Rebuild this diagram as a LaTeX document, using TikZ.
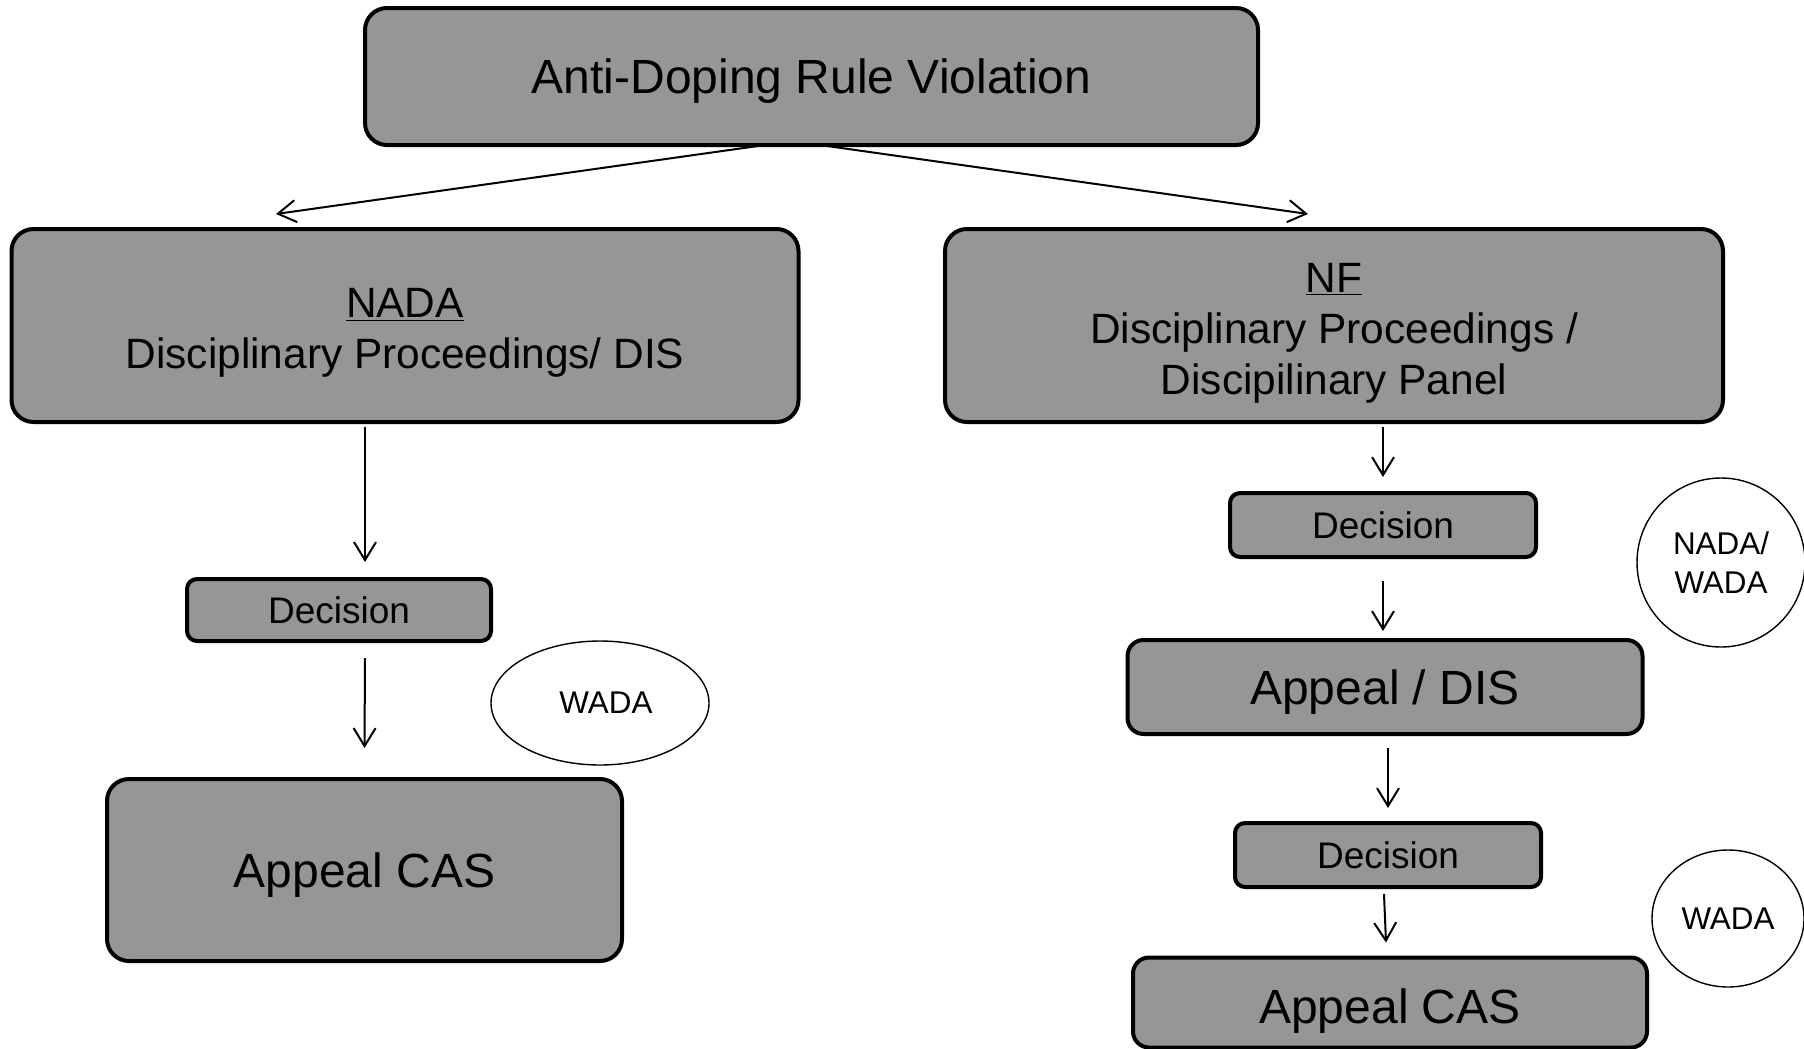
\documentclass[tikz,border=0pt]{standalone}
\usepackage{fontspec}
\setmainfont{Liberation Sans}
\usetikzlibrary{arrows.meta}
\usetikzlibrary{shapes.geometric}
\definecolor{boxgray}{RGB}{150,150,150}
\tikzstyle{blk} =[draw,line width=2pt,fill=boxgray,align=center,inner sep=0pt,text depth=0pt,rounded corners=11pt]
\tikzstyle{blkm}=[blk,rounded corners=8pt]
\tikzstyle{blks}=[blk,rounded corners=5pt,font=\fontsize{18.5}{22}\selectfont]
\tikzstyle{oval}=[draw,ellipse,line width=.7pt,inner sep=0pt,align=center,text depth=0pt,font=\fontsize{15.7}{19.5}\selectfont]
\tikzstyle{big} =[font=\fontsize{24}{29}\selectfont]
\tikzstyle{med} =[font=\fontsize{21.2}{25.5}\selectfont]
\tikzstyle{arr} =[line width=1pt,-{Straight Barb[length=9pt,width=11pt]}]

\begin{document}
\begin{tikzpicture}[x=.5pt,y=-.5pt]
  \useasboundingbox (0,0) rectangle (1804,1049);
  % top
  \node[blk,big,minimum width=446.5pt,minimum height=68.5pt] (viol) at (811.5,76.5) {Anti-Doping Rule Violation};
  \node[blk,med,minimum width=393.5pt,minimum height=96.5pt,text height=43pt] (nada) at (405,325.5) {\underline{NADA}\\Disciplinary Proceedings/ DIS};
  \node[blk,med,minimum width=389pt,minimum height=96.5pt,text height=68.5pt] (nf) at (1334,325.5) {\underline{NF}\\Disciplinary Proceedings /\\Discipilinary Panel};
  % left branch
  \node[blks,minimum width=152pt,minimum height=31pt] (decl) at (339,610) {Decision};
  \node[blk,big,minimum width=257.5pt,minimum height=91pt] (casl) at (364.5,870) {Appeal CAS};
  \node[oval,minimum width=109pt,minimum height=62pt] (wadal) at (600,703) {\hspace*{6pt}WADA};
  % right branch
  \node[blks,minimum width=153pt,minimum height=32pt] (decr) at (1383,525) {Decision};
  \node[oval,minimum width=84pt,minimum height=84.5pt] (nawa) at (1721,562.5) {NADA/\\WADA};
  \node[blkm,big,minimum width=257.5pt,minimum height=47pt] (dis) at (1385,687) {Appeal / DIS};
  \node[blks,minimum width=153pt,minimum height=32pt] (decs) at (1388,855) {Decision};
  \node[blkm,big,minimum width=257pt,minimum height=45pt,text height=20.6pt] (casr) at (1390,1002.5) {Appeal CAS};
  \node[oval,minimum width=76pt,minimum height=68.5pt] (wadar) at (1728,918.5) {WADA};

  \draw[arr] ([xshift=-23.25pt,yshift=1pt]viol.south) -- ([xshift=-64.5pt,yshift=6.5pt]nada.north);
  \draw[arr] ([xshift=4.25pt,yshift=1pt]viol.south) -- ([xshift=-13pt,yshift=6.5pt]nf.north);
  \draw[arr] ([xshift=-20pt,yshift=-1.5pt]nada.south) -- ([xshift=13pt,yshift=7.5pt]decl.north);
  \draw[arr] ([xshift=13pt,yshift=-7.5pt]decl.south) -- ([yshift=14.5pt]casl.north);
  \draw[arr] ([xshift=24.5pt,yshift=-1.5pt]nf.south) -- ([yshift=7pt]decr.north);
  \draw[arr] ([yshift=-11pt]decr.south) -- ([xshift=-1pt,yshift=3.5pt]dis.north);
  \draw[arr] ([xshift=1.5pt,yshift=-6pt]dis.south) -- ([yshift=6.5pt]decs.north);
  \draw[arr] ([xshift=-2pt,yshift=-2.5pt]decs.south) -- ([xshift=-2pt,yshift=6.5pt]casr.north);
\end{tikzpicture}
\end{document}
